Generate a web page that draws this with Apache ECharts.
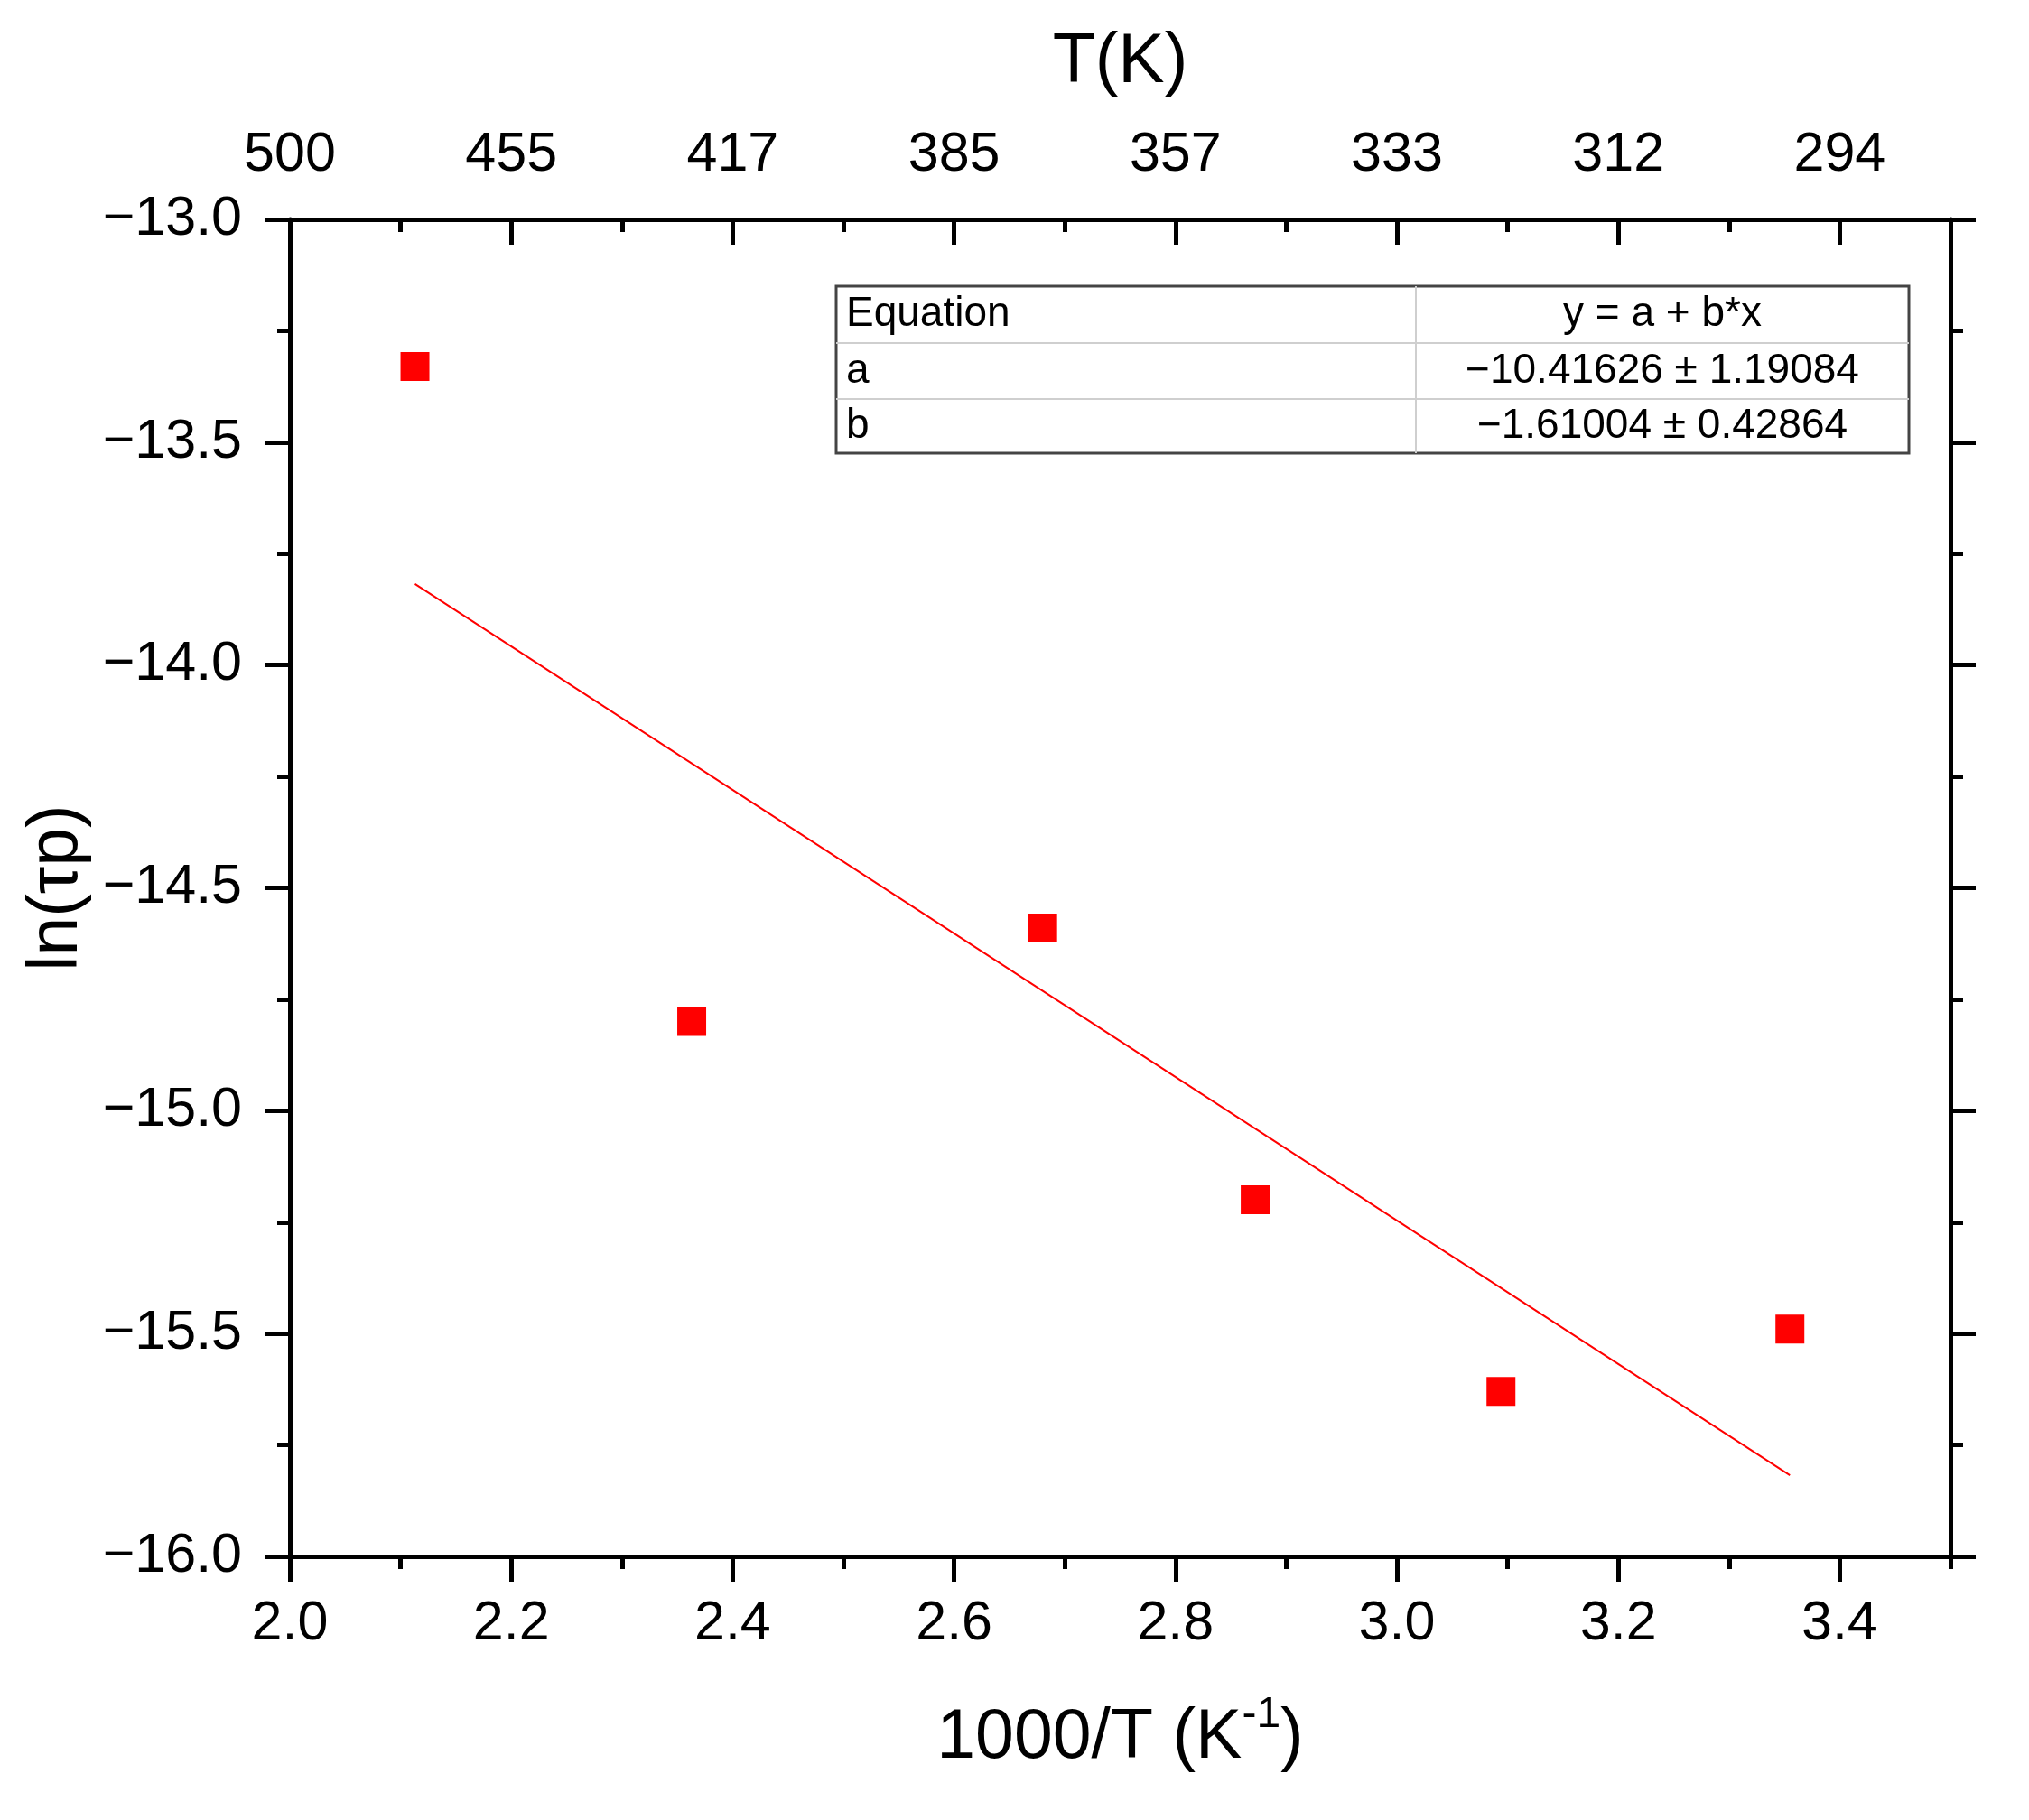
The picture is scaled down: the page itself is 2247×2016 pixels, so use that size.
<!DOCTYPE html>
<html>
<head>
<meta charset="utf-8">
<script src="https://cdn.jsdelivr.net/npm/echarts@6/dist/echarts.min.js"></script>
<style>
  html, body { margin: 0; background: #fff; }
  #chart { width: 2247px; height: 2016px; }
</style>
</head>
<body>
<div id="chart"></div>
<script>
// measured points
const invT = [2.113, 2.363, 2.680, 2.872, 3.094, 3.355];
const lnTau = [-13.33, -14.80, -14.59, -15.20, -15.63, -15.49];

// linear fit y = a + b*x
const fitA = -10.41626;
const fitB = -1.61004;

const xMajor = [2.0, 2.2, 2.4, 2.6, 2.8, 3.0, 3.2, 3.4];
const xMinor = [2.1, 2.3, 2.5, 2.7, 2.9, 3.1, 3.3, 3.5];
const topLabels = ['500', '455', '417', '385', '357', '333', '312', '294'];

const tableRows = [
  ['Equation', 'y = a + b*x'],
  ['a', '\u221210.41626 \u00b1 1.19084'],
  ['b', '\u22121.61004 \u00b1 0.42864']
];

const FONT = '"Liberation Sans", Arial, sans-serif';
const chart = echarts.init(document.getElementById('chart'));

const axisLine = { show: true, onZero: false, lineStyle: { color: '#000', width: 5 } };
const tickStyle = { color: '#000', width: 5 };

function minusFmt(v) {
  return (v < 0 ? '\u2212' : '') + Math.abs(v).toFixed(1);
}

// fitted line from first to last point
const xs = [invT[0], invT[invT.length - 1]];
const fitLine = xs.map((x) => [x, fitA + fitB * x]);

// table drawn with graphic elements
const tb = { left: 926, top: 317, right: 2114, split: 1568, rows: [317, 380, 442, 502] };
const tableEls = [
  {
    type: 'rect',
    shape: { x: tb.left, y: tb.top, width: tb.right - tb.left, height: tb.rows[3] - tb.top },
    style: { fill: '#fff', stroke: '#444', lineWidth: 3 },
    z: 10
  },
  {
    type: 'line',
    shape: { x1: tb.split, y1: tb.top, x2: tb.split, y2: tb.rows[3] },
    style: { stroke: '#cfcfcf', lineWidth: 2 },
    z: 11
  }
];
for (let i = 1; i < 3; i++) {
  tableEls.push({
    type: 'line',
    shape: { x1: tb.left, y1: tb.rows[i], x2: tb.right, y2: tb.rows[i] },
    style: { stroke: '#cfcfcf', lineWidth: 2 },
    z: 11
  });
}
tableRows.forEach((row, i) => {
  const cy = (tb.rows[i] + tb.rows[i + 1]) / 2;
  tableEls.push({
    type: 'text', x: tb.left + 11, y: cy, z: 12,
    style: { text: row[0], fontSize: 46, fontFamily: FONT, fill: '#000', align: 'left', verticalAlign: 'middle' }
  });
  tableEls.push({
    type: 'text', x: (tb.split + tb.right) / 2, y: cy, z: 12,
    style: { text: row[1], fontSize: 46, fontFamily: FONT, fill: '#000', align: 'center', verticalAlign: 'middle' }
  });
});

const option = {
  backgroundColor: '#fff',
  animation: false,
  grid: { left: 321, right: 87, top: 243, bottom: 292 },
  xAxis: [
    {
      type: 'value', position: 'bottom', min: 2.0, max: 3.5,
      axisLine: axisLine,
      axisTick: { customValues: xMajor, length: 28, lineStyle: tickStyle },
      axisLabel: { customValues: xMajor, formatter: (v) => v.toFixed(1), fontSize: 61, fontFamily: FONT, color: '#000', margin: 45 },
      splitLine: { show: false },
      name: '1000/T (K{sup|-1})',
      nameLocation: 'middle',
      nameGap: 152,
      nameTextStyle: {
        fontSize: 77, fontFamily: FONT, color: '#000', lineHeight: 100,
        rich: { sup: { fontSize: 48, fontFamily: FONT, color: '#000', lineHeight: 48, verticalAlign: 'top' } }
      }
    },
    {
      type: 'value', position: 'bottom', min: 2.0, max: 3.5,
      axisLine: { show: false },
      axisTick: { customValues: xMinor, length: 14, lineStyle: tickStyle },
      axisLabel: { show: false },
      splitLine: { show: false }
    },
    {
      type: 'value', position: 'top', min: 2.0, max: 3.5,
      axisLine: axisLine,
      axisTick: { customValues: xMajor, inside: true, length: 28, lineStyle: tickStyle },
      axisLabel: {
        customValues: xMajor,
        formatter: (v) => topLabels[xMajor.findIndex((m) => Math.abs(m - v) < 1e-6)],
        fontSize: 61, fontFamily: FONT, color: '#000', margin: 40
      },
      splitLine: { show: false },
      name: 'T(K)',
      nameLocation: 'middle',
      nameGap: 135,
      nameTextStyle: { fontSize: 77, fontFamily: FONT, color: '#000' }
    },
    {
      type: 'value', position: 'top', min: 2.0, max: 3.5,
      axisLine: { show: false },
      axisTick: { customValues: xMinor, inside: true, length: 14, lineStyle: tickStyle },
      axisLabel: { show: false },
      splitLine: { show: false }
    }
  ],
  yAxis: [
    {
      type: 'value', position: 'left', min: -16, max: -13, interval: 0.5,
      axisLine: axisLine,
      axisTick: { length: 28, lineStyle: tickStyle },
      minorTick: { show: true, splitNumber: 2, length: 14, lineStyle: tickStyle },
      axisLabel: { formatter: minusFmt, fontSize: 61, fontFamily: FONT, color: '#000', margin: 53 },
      splitLine: { show: false },
      minorSplitLine: { show: false },
      name: 'ln(\u03c4p)',
      nameLocation: 'middle',
      nameGap: 208,
      nameTextStyle: { fontSize: 77, fontFamily: FONT, color: '#000' }
    },
    {
      type: 'value', position: 'right', min: -16, max: -13, interval: 0.5,
      axisLine: axisLine,
      axisTick: { length: 28, lineStyle: tickStyle },
      minorTick: { show: true, splitNumber: 2, length: 14, lineStyle: tickStyle },
      axisLabel: { show: false },
      splitLine: { show: false },
      minorSplitLine: { show: false }
    }
  ],
  series: [
    {
      type: 'line',
      xAxisIndex: 0, yAxisIndex: 0,
      data: fitLine,
      showSymbol: false,
      lineStyle: { color: '#ff0000', width: 2 },
      z: 2
    },
    {
      type: 'scatter',
      xAxisIndex: 0, yAxisIndex: 0,
      data: invT.map((x, i) => [x, lnTau[i]]),
      symbol: 'rect',
      symbolSize: 32,
      itemStyle: { color: '#ff0000', opacity: 1 },
      z: 3
    }
  ],
  graphic: tableEls
};

chart.setOption(option);
</script>
</body>
</html>
